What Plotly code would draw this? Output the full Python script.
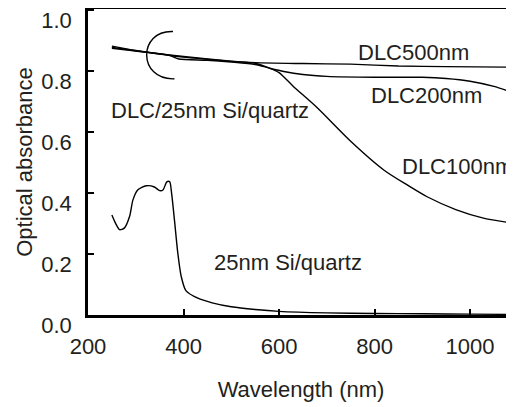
import plotly.graph_objects as go

# ---------------- data ----------------
wl_si = [250, 258, 266, 276, 287, 294, 304, 322, 339, 350, 357, 365, 371, 375,
         381, 388, 395, 405, 430, 460, 500, 550, 600, 700, 800, 900, 1000, 1092]
abs_si = [0.328, 0.300, 0.280, 0.285, 0.323, 0.377, 0.410, 0.424, 0.420, 0.408,
          0.410, 0.437, 0.437, 0.40, 0.312, 0.204, 0.128, 0.080, 0.055, 0.040,
          0.027, 0.018, 0.012, 0.007, 0.005, 0.004, 0.003, 0.002]

wl_500 = [250, 300, 400, 500, 550, 650, 750, 850, 950, 1092]
abs_500 = [0.882, 0.868, 0.848, 0.833, 0.828, 0.825, 0.823, 0.817, 0.815, 0.813]

wl_200 = [250, 300, 370, 390, 450, 500, 550, 580, 610, 650, 700, 800, 900, 950,
          1000, 1050, 1092]
abs_200 = [0.875, 0.866, 0.852, 0.840, 0.836, 0.830, 0.822, 0.810, 0.799, 0.789,
           0.783, 0.780, 0.780, 0.776, 0.767, 0.750, 0.729]

wl_100 = [250, 300, 400, 500, 550, 580, 600, 630, 680, 750, 820, 870, 910, 970,
          1030, 1092]
abs_100 = [0.878, 0.867, 0.846, 0.832, 0.826, 0.810, 0.795, 0.750, 0.680, 0.570,
           0.475, 0.425, 0.388, 0.346, 0.317, 0.301]

# label texts and anchor values
label_texts = ["DLC500nm", "DLC200nm", "DLC100nm", "DLC/25nm Si/quartz", "25nm Si/quartz"]
label_x = [882, 908, 973, 455, 619]
label_y = [0.860, 0.719, 0.486, 0.670, 0.171]

# bracket grouping the DLC curves: (x, y) of start, control1, control2, end
bracket_pts = [(378, 0.930), (304, 0.935), (304, 0.770), (381, 0.775)]

x_ticks = [200, 400, 600, 800, 1000]
y_ticks = [0.0, 0.2, 0.4, 0.6, 0.8, 1.0]

FONT = "Liberation Sans, Arial, Helvetica, sans-serif"
TXT = "#231f20"

fig = go.Figure()
line_style = dict(color="black", width=1.4, shape="spline", smoothing=0.7)
for xs, ys, name in [(wl_si, abs_si, "25nm Si/quartz"), (wl_500, abs_500, "DLC500nm"),
                     (wl_200, abs_200, "DLC200nm"), (wl_100, abs_100, "DLC100nm")]:
    fig.add_trace(go.Scatter(x=xs, y=ys, mode="lines", name=name, line=line_style,
                             showlegend=False, hoverinfo="skip"))

for t, x, y in zip(label_texts, label_x, label_y):
    fig.add_annotation(x=x, y=y, text=t, showarrow=False, xref="x", yref="y",
                       font=dict(family=FONT, size=22, color=TXT))

p = bracket_pts
path = f"M {p[0][0]},{p[0][1]} C {p[1][0]},{p[1][1]} {p[2][0]},{p[2][1]} {p[3][0]},{p[3][1]}"
fig.add_shape(type="path", path=path, xref="x", yref="y",
              line=dict(color="black", width=1.4))

# the page body keeps the browser's default 8px margin, so the figure is
# sized to fill the remaining 506 x 399 area of the window
fig.update_layout(
    width=506, height=399,
    margin=dict(l=80, r=0, t=1, b=92),
    plot_bgcolor="white", paper_bgcolor="white",
    font=dict(family=FONT, size=22, color=TXT),
)
fig.update_xaxes(
    range=[200, 1092], tickvals=x_ticks, ticks="inside", ticklen=6, tickwidth=1.5,
    tickcolor="black", showline=True, linecolor="black", linewidth=2.5, mirror=True,
    showgrid=False, zeroline=False, ticklabelstandoff=10, automargin=False,
    ticklabeloverflow="allow",
    title=dict(text="Wavelength (nm)", standoff=24, font=dict(size=22)),
)
fig.update_yaxes(
    range=[0, 1.004], tickvals=y_ticks, tickformat=".1f", ticks="inside", ticklen=6,
    tickwidth=1.5, tickcolor="black", showline=True, linecolor="black", linewidth=2.5,
    showgrid=False, zeroline=False, ticklabelstandoff=9, ticklabelshift=10,
    automargin=False, ticklabeloverflow="allow",
    title=dict(text="Optical absorbance", standoff=3, font=dict(size=22)),
)

fig.write_html("out.html")
